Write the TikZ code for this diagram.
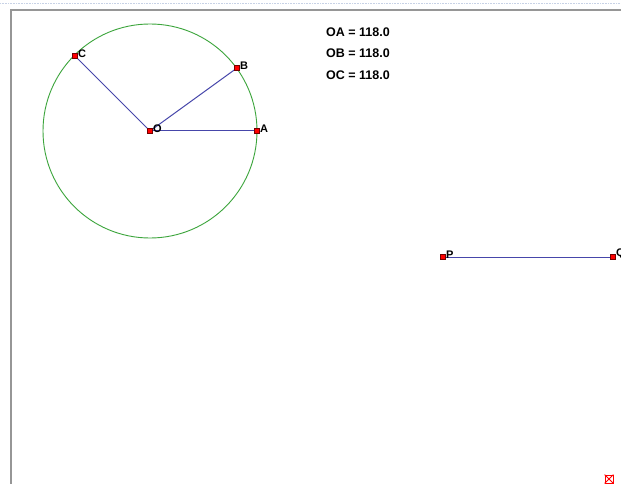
\documentclass[tikz,border=0pt]{standalone}
\usepackage{fontspec}
\setmainfont{Liberation Sans}
\begin{document}
\begin{tikzpicture}[x=1pt,y=-1pt,
  pt/.style={rectangle,fill=red,draw=red!45!black,line width=0.6pt,minimum size=4.5pt,inner sep=0pt},
  lbl/.style={font=\bfseries\fontsize{11}{11}\selectfont,inner sep=0pt,anchor=south west},
  meas/.style={font=\bfseries\fontsize{12.5}{13}\selectfont,inner sep=0pt},
  seg/.style={draw={rgb,255:red,70;green,70;blue,170},line width=1pt},
  circ/.style={draw={rgb,255:red,60;green,165;blue,60},line width=0.9pt},
  frame/.style={draw={rgb,255:red,150;green,150;blue,150},line width=1.2pt}]
\useasboundingbox (0,0) rectangle (621,484);
\fill[white] (0,0) rectangle (621,484);
\draw[densely dotted,draw={rgb,255:red,200;green,210;blue,230},line width=0.6pt] (0,3) -- (621,3);
\draw[frame] (11,484) -- (11,10) -- (621,10);
% circle and radii
\coordinate (Oc) at (150,131);
\draw[circ] (Oc) circle[radius=107];
\node[pt] (O) at (150,131) {};
\node[pt] (A) at (257,131) {};
\node[pt] (B) at (237,68) {};
\node[pt] (C) at (75,56) {};
\draw[seg] (O.center) -- (A.center);
\draw[seg] (O.center) -- (B.center);
\draw[seg] (O.center) -- (C.center);
\node[pt] at (O.center) {};
\node[pt] at (A.center) {};
\node[pt] at (B.center) {};
\node[pt] at (C.center) {};
\node[lbl] (lO) at (153,133) {O};
\node[lbl] (lA) at (260,133) {A};
\node[lbl] (lB) at (240,70) {B};
\node[lbl] (lC) at (78,58) {C};
% measurements
\node[meas] (m1) at (358,32) {OA = 118.0};
\node[meas] (m2) at (358,53) {OB = 118.0};
\node[meas] (m3) at (358,75) {OC = 118.0};
% segment PQ
\node[pt] (P) at (443,257) {};
\node[pt] (Q) at (613,257) {};
\draw[seg] (P.center) -- (Q.center);
\node[pt] at (P.center) {};
\node[pt] at (Q.center) {};
\node[lbl] (lP) at (446,259) {P};
\node[lbl] (lQ) at (616,259) {Q};
% small close box bottom right
\node[draw=red,line width=0.8pt,minimum size=8pt,inner sep=0pt] (xb) at (609,479) {};
\draw[red,line width=0.8pt] (xb.north west) -- (xb.south east) (xb.north east) -- (xb.south west);
\end{tikzpicture}
\end{document}
